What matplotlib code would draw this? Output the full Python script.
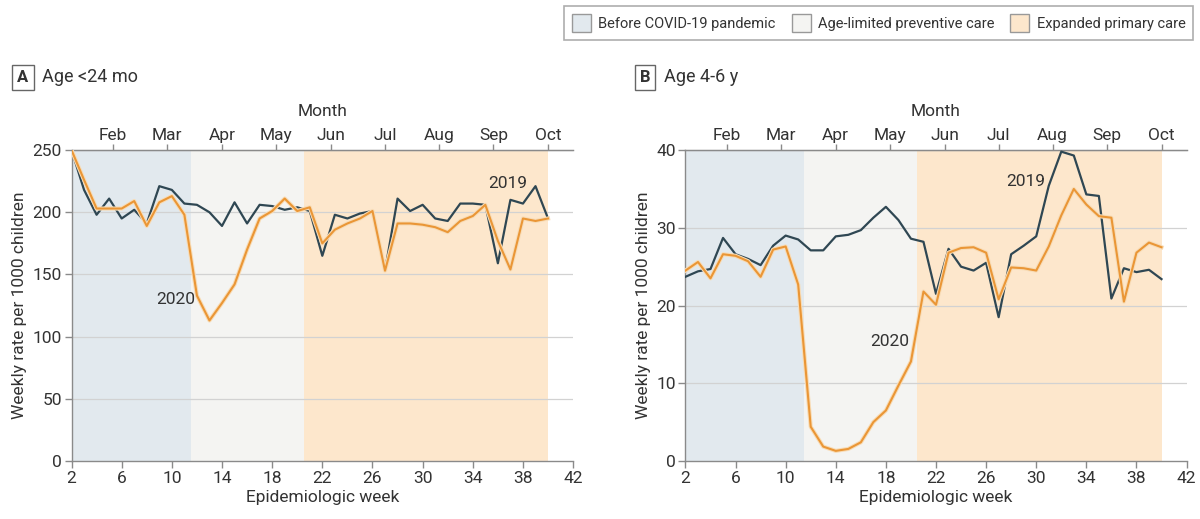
import numpy as np
import matplotlib
matplotlib.use("Agg")
import matplotlib.pyplot as plt
import matplotlib.patheffects as pe
from matplotlib.patches import Patch

plt.rcParams['font.family'] = ['Roboto', 'DejaVu Sans']

weeks = list(range(2, 41))

# Age <24 mo
a_2019 = [250, 218, 198, 211, 195, 202, 191, 221, 218, 207, 206, 200, 189, 208, 191, 206,
          205, 202, 204, 201, 165, 198, 195, 199, 201, 153, 211, 201, 206, 195, 193, 207,
          207, 206, 159, 210, 207, 221, 195]
a_2020 = [250, 226, 203, 203, 203, 209, 189, 208, 213, 198, 133, 113, 127, 142, 170, 195,
          201, 211, 201, 204, 175, 186, 191, 195, 201, 153, 191, 191, 190, 188, 184, 193,
          197, 206, 177, 154, 195, 193, 195]

# Age 4-6 y
b_2019 = [23.7, 24.4, 24.7, 28.7, 26.6, 26.0, 25.2, 27.7, 29.0, 28.5, 27.1, 27.1, 28.9, 29.1,
          29.7, 31.3, 32.7, 31.0, 28.6, 28.2, 21.5, 27.3, 25.0, 24.5, 25.5, 18.5, 26.6, 27.7,
          28.9, 35.4, 39.8, 39.3, 34.3, 34.1, 20.9, 24.8, 24.3, 24.6, 23.4]
b_2020 = [24.5, 25.6, 23.5, 26.6, 26.4, 25.7, 23.7, 27.2, 27.6, 22.7, 4.4, 1.85, 1.3, 1.55,
          2.4, 5.0, 6.5, 9.7, 12.8, 21.8, 20.1, 26.8, 27.4, 27.5, 26.8, 20.8, 24.9, 24.8,
          24.5, 27.6, 31.6, 35.0, 33.0, 31.5, 31.3, 20.5, 26.8, 28.1, 27.5]

month_labels = ['Feb', 'Mar', 'Apr', 'May', 'Jun', 'Jul', 'Aug', 'Sep', 'Oct']
month_pos = [5.3, 9.6, 14.0, 18.3, 22.7, 27.0, 31.3, 35.65, 40.0]

periods = [(2, 11.5, '#e2e9ee', 'Before COVID-19 pandemic'),
           (11.5, 20.5, '#f4f4f2', 'Age-limited preventive care'),
           (20.5, 40, '#fde7cc', 'Expanded primary care')]

dark = '#2f4753'
orange = '#ea9636'
txt = '#333333'
spine = '#8a8a8a'


def draw_panel(ax, y19, y20, ymax, ystep, ann19, ann20):
    for x0, x1, c, _ in periods:
        ax.axvspan(x0, x1, color=c, lw=0, zorder=0)
    for yv in np.arange(ystep, ymax + 0.1, ystep):
        ax.axhline(yv, color='#d2d2d2', lw=0.9, zorder=1)
    ax.plot(weeks, y19, color=dark, lw=1.6, zorder=3)
    ax.plot(weeks, y20, color=orange, lw=1.5, zorder=4,
            path_effects=[pe.Stroke(linewidth=3.0, foreground='#f8dcb6'), pe.Normal()])
    ax.set_xlim(2, 42)
    ax.set_ylim(0, ymax)
    ax.set_xticks(range(2, 43, 4))
    ax.set_yticks(np.arange(0, ymax + 0.1, ystep))
    ax.set_xlabel('Epidemiologic week', fontsize=12.5, color=txt, labelpad=3)
    ax.spines['right'].set_visible(False)
    for s in ['left', 'bottom', 'top']:
        ax.spines[s].set_color(spine)
        ax.spines[s].set_linewidth(1)
    ax.tick_params(colors=spine, labelcolor=txt, labelsize=12.5, length=5, width=1, pad=2)
    top = ax.secondary_xaxis('top')
    top.set_xticks(month_pos)
    top.set_xticklabels(month_labels)
    top.tick_params(colors=spine, labelcolor=txt, labelsize=12.5, length=4, width=1, pad=1)
    top.spines['top'].set_color(spine)
    top.set_xlabel('Month', fontsize=12.5, color=txt, labelpad=9)
    ax.text(ann19[0], ann19[1], '2019', fontsize=12.5, color=txt, ha='center', va='center', zorder=5)
    ax.text(ann20[0], ann20[1], '2020', fontsize=12.5, color=txt, ha='center', va='center', zorder=5)


fig = plt.figure(figsize=(12, 5.19), dpi=100)
ax1 = fig.add_axes([0.0596, 0.1118, 0.418, 0.599])
ax2 = fig.add_axes([0.5712, 0.1118, 0.4176, 0.599])

draw_panel(ax1, a_2019, a_2020, 250, 50, (36.8, 223.5), (10.3, 130))
draw_panel(ax2, b_2019, b_2020, 40, 10, (29.2, 35.9), (18.3, 15.4))
ax1.set_ylabel('Weekly rate per 1000 children', fontsize=12.5, color=txt, labelpad=4)
ax2.set_ylabel('Weekly rate per 1000 children', fontsize=12.5, color=txt, labelpad=4)

box = dict(boxstyle='square,pad=0.3', fc='white', ec='#666666', lw=1)
fig.text(23 / 1200, 1 - 77 / 519, 'A', fontsize=12, fontweight='bold', color=txt,
         ha='center', va='center', bbox=box)
fig.text(42 / 1200, 1 - 77 / 519, 'Age <24 mo', fontsize=13, color=txt, va='center')
fig.text(645 / 1200, 1 - 77 / 519, 'B', fontsize=12, fontweight='bold', color=txt,
         ha='center', va='center', bbox=box)
fig.text(664 / 1200, 1 - 77 / 519, 'Age 4-6 y', fontsize=13, color=txt, va='center')

handles = [Patch(facecolor=c, edgecolor='#999999', lw=1, label=l) for _, _, c, l in periods]
leg = fig.legend(handles=handles, loc='upper right', bbox_to_anchor=(0.997, 0.995), ncol=3,
                 fontsize=10.5, frameon=True, fancybox=False, edgecolor='#999999',
                 handlelength=1.3, handleheight=1.6, columnspacing=1.1, handletextpad=0.5,
                 borderpad=0.55, borderaxespad=0.2)
leg.get_frame().set_linewidth(1.2)
for t in leg.get_texts():
    t.set_color(txt)

fig.savefig('out.png', dpi=100)
